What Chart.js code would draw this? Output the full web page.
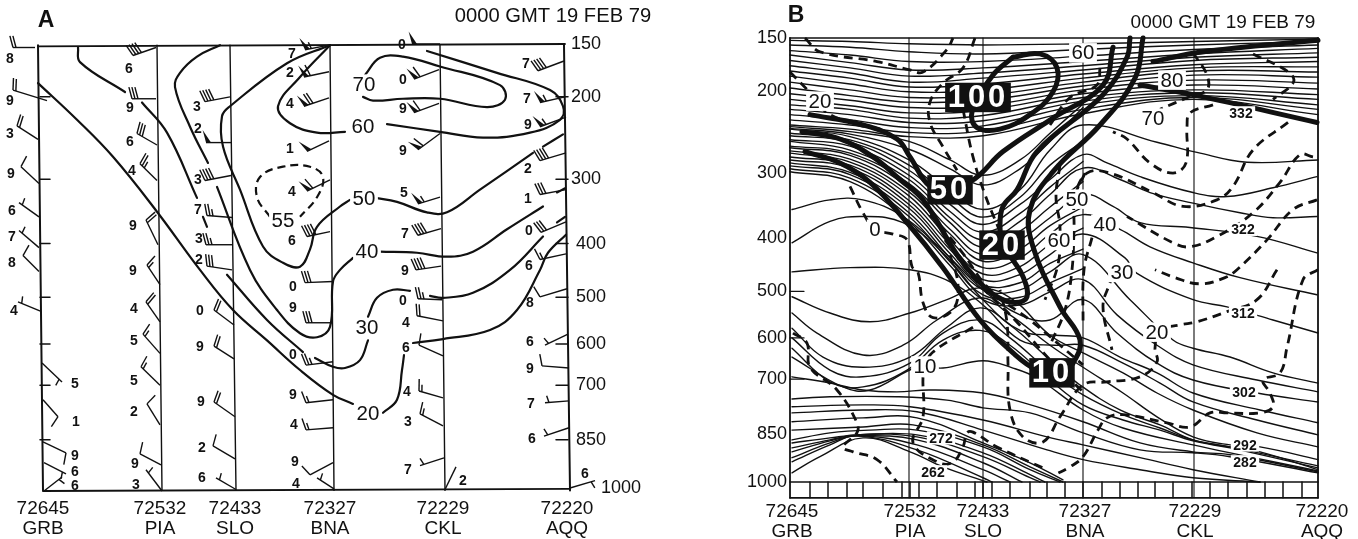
<!DOCTYPE html>
<html>
<head>
<meta charset="utf-8">
<style>
  body { margin: 0; background: #fff; }
  canvas { position: absolute; top: 0; }
</style>
<script src="https://cdn.jsdelivr.net/npm/chart.js@4/dist/chart.umd.js"></script>
</head>
<body>
<canvas id="panelA" width="680" height="539" style="left:0"></canvas>
<canvas id="panelB" width="678" height="539" style="left:680px"></canvas>
<script>
// ---- axes ----
const pressureTicks = [150, 200, 300, 400, 500, 600, 700, 850, 1000];
const tickLabelsA = ['150', '200', '300', ' 400', ' 500', ' 600', ' 700', ' 850', '      1000'];
const tickLabelsB = ['150', '200', '300', '400', '500', '600', '700', '850', '1000'];
const stationNames = [['72645', 'GRB'], ['72532', 'PIA'], ['72433', 'SLO'], ['72327', 'BNA'], ['72229', 'CKL'], ['72220', 'AQQ']];
const stationLabelXA = [5, 122, 197, 292, 405, 529];
const stationLabelXB = [2, 120, 193, 295, 405, 532];
const stationXB = [0, 119, 193, 293, 404, 528];
// top x, bottom x of the (slightly skewed) station lines in panel A
const stationTopA = [0, 119, 192, 292, 402, 526];
const stationBottomA = [5, 124, 198, 296, 407, 532];
const sideTicksA = [200, 300, 400, 500, 600, 700, 850];
const sideTicksB = [500, 600, 700];
const stripX = [20, 38, 57, 73, 93, 112, 120, 129, 147, 167, 185, 193, 202, 220, 240, 257, 275, 293, 312, 330, 348, 365, 383, 402, 420, 438, 457, 475, 493, 512];

// ---- panel A: isotachs, flat x,p lists ----
const isotachsA = [
  [0,186, 39,225, 75,270, 119,348, 162,447, 195,526, 229,592, 262,662, 295,725, 315,749],
  [345,773, 359,738, 364,662, 366,626],
  [375,598, 405,589, 452,569, 479,526, 502,447, 510,416, 528,385],
  [40,153, 42,166, 87,195],
  [104,206, 129,240, 159,327],
  [165,356, 169,372],
  [189,456, 229,547, 265,619],
  [277,633, 295,654, 307,657, 322,638, 330,592],
  [330,540, 339,501, 355,485, 372,487],
  [392,497, 405,501, 435,491, 472,447, 505,388],
  [519,365, 527,356],
  [182,151, 159,161, 142,176, 137,190, 152,233, 170,278],
  [179,311, 212,447, 239,526, 262,576, 279,585, 292,562, 295,469, 302,447, 315,425],
  [292,151, 249,167, 192,210, 184,221, 185,257, 202,315, 225,405, 245,434, 262,441, 272,410, 279,372, 302,340, 312,330],
  [337,327, 359,333, 389,349, 409,349, 442,315, 495,265],
  [505,257, 525,242],
  [342,414, 379,416, 409,423, 435,414, 469,376, 505,340],
  [519,319, 527,313],
  [292,151, 262,180, 240,210, 252,229, 279,240, 307,239],
  [349,230, 402,239, 445,246, 492,240, 522,225, 525,210, 512,193, 459,176, 389,156],
  [325,200, 335,204, 365,202, 402,202, 449,211, 467,203, 462,188, 402,170, 365,161, 342,162, 327,178]
];
const dashedA = [[232,356, 219,326, 222,297, 245,283, 272,283, 285,297, 279,326, 262,356]];
const textA = [
  [326,187,'70'], [325,233,'60'], [326,327,'50'], [329,414,'40'], [329,564,'30'], [330,776,'20'], [245,361,'55']
];
// wind barbs: base x, base p, tip x, tip p, speed (kt), number, number x, number p
const barbsGRB = [
  [-3,153, -25,153, 20, '8', -28,162], [9,204, -25,193, 20, '9', -28,203], [0,248, -21,232, 20, '3', -28,241],
  [1,306, -17,283, 10, '9', -27,292], [1,356, -19,334, 5, '6', -26,345], [1,407, -19,378, 5, '7', -26,388],
  [1,450, -15,421, 10, '8', -26,432], [3,529, -20,509, 5, '4', -24,526], [4,645, 24,692, 5, '5', 37,695],
  [5,738, 20,784, 10, '1', 38,795], [5,856, 28,889, 10, '9', 37,895], [6,919, 28,954, 5, '6', 37,944],
  [6,1010, 24,964, 5, '6', 37,990]
];
const barbsPIA = [
  [118,153, 95,160, 40, '6', 91,172], [118,202, 94,202, 30, '9', 92,211], [119,255, 99,241, 30, '6', 92,250],
  [119,302, 102,279, 25, '4', 94,288], [120,402, 108,361, 20, '9', 95,370], [122,475, 109,438, 15, '9', 95,448],
  [122,551, 108,509, 20, '4', 96,523], [122,622, 105,578, 15, '5', 96,592], [122,700, 103,654, 15, '5', 96,687],
  [122,807, 109,749, 10, '2', 96,768], [123,926, 102,892, 10, '9', 97,919], [124,1010, 108,941, 5, '3', 98,986]
];
const barbsSLO = [
  [192,200, 167,205, 40, '3', 159,210], [193,252, 168,252, 50, '2', 160,235], [193,295, 167,302, 40, '3', 160,300],
  [194,357, 169,354, 25, '7', 160,344], [194,402, 168,402, 25, '3', 161,391], [194,447, 169,440, 30, '2', 161,427],
  [196,558, 176,526, 20, '0', 162,526], [196,635, 176,605, 20, '9', 162,605], [197,784, 176,744, 20, '9', 163,741],
  [197,907, 175,868, 10, '2', 164,871], [198,1005, 178,967, 5, '6', 164,964]
];
const barbsBNA = [
  [291,151, 267,155, 55, '7', 254,158], [291,175, 266,180, 60, '2', 252,175], [291,201, 266,210, 70, '4', 252,207],
  [291,250, 269,263, 50, '1', 252,259], [292,301, 269,317, 60, '4', 254,317], [292,380, 269,388, 40, '6', 254,394],
  [295,469, 267,471, 30, '0', 255,477], [295,553, 268,553, 30, '9', 255,521], [295,642, 268,650, 25, '0', 255,624],
  [295,738, 268,746, 15, '9', 255,723], [295,815, 268,821, 15, '4', 256,804], [295,919, 272,957, 10, '9', 257,915],
  [296,1003, 279,967, 5, '4', 258,983]
];
const barbsCKL = [
  [402,150, 374,150, 50, '0', 364,150], [401,173, 376,182, 60, '0', 365,182], [401,207, 376,217, 60, '9', 365,212],
  [402,241, 380,261, 60, '9', 365,262], [402,326, 380,336, 55, '5', 366,319], [403,375, 380,386, 40, '7', 367,383],
  [403,440, 378,447, 40, '9', 367,447], [404,505, 380,503, 25, '0', 365,505], [405,549, 379,538, 20, '4', 368,551],
  [405,628, 381,603, 10, '6', 368,607], [405,733, 381,715, 15, '4', 369,715], [405,810, 382,776, 15, '3', 370,795],
  [406,904, 382,928, 5, '7', 370,938], [407,1005, 418,932, 0, '2', 425,973]
];
const barbsAQQ = [
  [526,165, 500,174, 40, '7', 488,167], [527,200, 502,206, 55, '7', 489,201], [528,222, 502,233, 55, '9', 490,230],
  [528,265, 502,275, 40, '2', 490,285], [528,315, 502,322, 30, '1', 490,327], [528,364, 503,381, 30, '0', 491,378],
  [528,418, 502,428, 15, '6', 491,438], [529,483, 502,499, 10, '8', 492,509], [530,578, 507,603, 5, '6', 492,594],
  [531,657, 504,652, 10, '9', 492,657], [531,741, 507,746, 5, '7', 493,746], [531,815, 506,839, 5, '6', 494,845],
  [532,1000, 557,976, 5, '6', 547,951]
];

// ---- panel B: isentropes ----
const upperX = [0, 60, 119, 193, 293, 404, 528];
const upperIsentropes = [
  [152,153,155,156,155,153,151], [156,158,162,164,160,156,153], [161,165,171,171,166,160,156],
  [165,172,179,177,171,164,159], [170,177,185,182,175,167,163], [175,182,191,187,179,170,167],
  [180,187,196,193,183,174,171], [185,193,201,199,187,177,176], [191,199,207,205,191,180,181],
  [197,205,212,210,195,184,186], [203,210,218,216,199,189,192], [209,216,224,221,203,194,198],
  [215,220,230,227,207,199,204], [220,226,235,233,211,202,209], [226,232,241,239,215,205,215],
  [232,238,247,245,220,207,220], [238,243,252,251,225,209,226]
];
// the stack that dips through the front, between the upper group and the section below it
const dipX = [0, 60, 119, 160, 193, 230, 260, 293];
const dipIsentropes = [
  [240,246,258,282,303,282,248,214], [242,249,268,294,317,294,258,218],
  [248,256,289,335,366,335,289,258], [256,264,303,357,391,360,320,284],
  [264,273,315,375,417,389,350,312], [270,281,327,394,442,420,380,350],
  [278,289,340,412,466,452,412,384], [286,299,352,428,487,483,446,420],
  [294,307,365,443,507,512,483,456]
];
const isentropes = [
  [0,243, 60,252, 119,282, 160,324, 193,354, 230,324, 260,269, 293,238, 367,259, 407,272, 457,285, 528,282],
  [0,251, 60,259, 119,296, 160,346, 193,378, 230,346, 260,309, 293,275, 317,286, 350,305, 403,328, 437,334, 483,321, 527,305],
  [0,258, 60,269, 119,309, 160,367, 193,404, 230,373, 260,331, 293,293, 330,309, 360,328, 403,344, 450,359, 483,367, 527,365],
  [0,266, 60,276, 119,321, 160,386, 193,430, 230,404, 260,367, 293,331, 323,349, 350,375, 400,383, 467,398, 527,427],
  [0,273, 60,285, 119,333, 160,404, 193,454, 230,436, 260,394, 293,362, 330,386, 360,416, 403,445, 450,473, 527,507],
  [0,282, 60,293, 119,346, 160,421, 193,477, 230,467, 260,430, 293,394, 335,436, 347,465, 403,517, 437,532, 483,560, 528,589],
  [0,290, 60,302, 119,359, 160,436, 193,497, 230,497, 260,462, 293,430, 340,517, 383,605, 403,624, 440,645, 483,684, 528,710],
  [0,298, 60,312, 119,373, 160,450, 193,517, 230,528, 260,501, 293,477, 327,549, 367,617, 403,664, 467,702, 528,733],
  [2,354, 40,339, 73,339, 113,365, 150,418, 193,497, 230,549, 260,560, 293,517, 327,589, 367,660, 403,702, 467,736, 528,760],
  [2,409, 40,373, 73,365, 113,375, 153,427, 193,517, 230,583, 265,594, 293,600, 330,645, 367,684, 403,736, 470,782, 528,818],
  [2,462, 60,454, 120,458, 160,481, 193,528, 230,605, 265,617, 293,617, 333,660, 370,710, 403,760, 467,810, 528,853],
  [2,511, 40,545, 80,564, 120,545, 157,517, 190,493, 223,517, 260,594, 293,635, 333,684, 367,736, 403,782, 467,847, 528,889],
  [2,545, 27,589, 73,640, 113,617, 147,560, 190,513, 220,549, 260,617, 293,670, 333,736, 367,801, 403,859, 440,883, 470,889, 528,928],
  [2,578, 33,645, 73,670, 120,645, 157,576, 190,534, 220,571, 260,652, 290,715, 330,782, 370,824, 403,868, 440,889, 470,904, 528,960],
  [2,600, 40,677, 73,694, 120,660, 153,589, 190,560, 220,600, 260,682, 293,741, 333,795, 370,833, 403,868, 440,889, 528,948],
  [2,624, 40,707, 73,720, 117,677, 153,605, 190,583, 220,617, 260,702, 293,768, 333,810, 370,839, 403,871, 440,892, 528,954],
  [2,645, 53,720, 80,728, 127,670, 153,672, 193,654, 223,672, 247,697, 293,782, 333,833, 403,883, 528,964],
  [2,694, 40,710, 73,728, 107,733, 140,728, 193,736, 233,762, 293,815, 350,877, 403,904, 440,913, 528,967],
  [2,752, 40,746, 107,746, 157,755, 193,776, 240,790, 293,847, 350,898, 403,907, 440,919, 528,970],
  [2,773, 73,768, 120,773, 193,810, 257,859, 293,883, 350,922, 403,960, 470,1000],
  [2,790, 73,782, 127,787, 193,839, 257,898, 293,928, 350,960, 403,986, 470,1000],
  [2,815, 73,804, 127,804, 193,877, 240,938, 273,993],
  [2,839, 73,830, 123,824, 193,883, 240,951, 273,1000],
  [2,868, 40,847, 80,839, 127,839, 193,889, 240,960, 270,1000],
  [2,877, 40,862, 67,853, 127,853, 193,907, 240,976, 255,1000],
  [2,892, 40,868, 67,853, 127,859, 193,919, 240,986, 250,1000],
  [2,904, 40,871, 67,856, 127,868, 193,938, 232,1000],
  [2,922, 40,877, 67,856, 127,883, 193,960, 220,1000],
  [2,935, 40,883, 67,856, 127,898, 193,986, 202,1000],
  [2,970, 30,919, 73,862, 120,904, 153,951, 197,1000]
];
const heavyB = [
  [15,271, 50,286, 80,313, 117,375, 153,454, 190,560, 223,635, 247,677, 270,689, 283,660, 290,605, 270,532, 243,416, 240,354, 263,298, 310,238, 345,187, 353,150],
  [12,246, 50,255, 83,278, 110,309, 133,339, 167,430, 187,477, 207,511, 225,523, 237,511, 233,471, 223,440, 213,413, 210,381, 213,349, 227,324, 247,271, 313,204, 337,167, 340,150],
  [20,226, 73,238, 107,255, 120,278, 140,319, 160,324, 180,312, 190,302, 213,271, 263,230, 313,194, 323,158],
  [223,167, 250,164, 267,177, 263,201, 240,226, 210,243, 187,241, 182,223, 203,184, 223,167],
  [363,171, 413,162, 528,152],
  [350,194, 403,204, 527,235]
];
const dashedB = [
  [15,150, 30,162, 87,171, 120,179, 133,181, 157,160, 163,150],
  [0,181, 22,204, 40,226, 90,243],
  [185,150, 173,177, 153,192, 140,212, 140,235, 153,265, 167,296],
  [173,220, 183,278, 195,331, 210,390],
  [310,177, 307,194, 280,207, 260,238],
  [403,163, 417,184, 417,199, 400,206, 370,220],
  [463,164, 500,182, 503,192, 483,209],
  [423,215, 400,224, 397,240, 396,286, 383,300, 360,286, 337,255, 323,246],
  [498,235, 463,269, 443,319, 427,339, 393,349, 363,328, 320,300, 297,300, 283,334],
  [523,278, 510,275, 490,313, 463,359, 427,398, 400,416, 383,409, 337,365],
  [527,339, 503,354, 477,404, 447,458, 435,473, 410,485, 385,473, 365,458],
  [528,458, 513,477, 497,622, 490,684, 473,702, 480,736, 483,773, 470,790, 437,790, 420,790, 400,830, 377,818, 333,795, 317,804, 308,839, 293,919, 280,951, 265,976],
  [487,458, 467,517, 437,542, 407,564, 390,571, 370,583, 365,624, 367,657, 350,694, 317,707, 293,715, 270,801, 253,874, 233,859, 220,782, 218,660, 217,566, 210,497],
  [323,467, 320,483, 313,532, 322,628],
  [270,289, 266,334, 270,383, 268,448, 255,517],
  [295,300, 285,334, 284,386, 282,458, 275,538, 260,617],
  [302,400, 294,458, 293,573],
  [60,319, 73,359, 85,386, 103,394, 117,404, 122,452, 128,463, 133,523, 143,555, 163,538, 168,487, 160,430],
  [183,576, 143,633, 135,667, 133,694, 133,801, 123,877, 147,935, 162,938, 173,889, 177,847, 183,845, 207,889, 257,960],
  [3,589, 17,612, 20,670, 47,728, 67,818, 67,847, 53,889, 63,904, 87,928, 107,1000],
  [140,362, 170,421, 200,497, 240,560, 270,617, 293,664],
  [155,404, 185,477, 225,560, 260,652, 293,733]
];
const textB = [
  [30,211,'20','box'], [85,386,'0','box'], [135,667,'10','box'], [293,163,'60','box'], [382,189,'80','box'],
  [363,230,'70','box'], [287,338,'50','box'], [315,378,'40','box'], [269,405,'60','box'], [332,463,'30','box'], [367,587,'20','box'],
  [151,862,'272','small'], [143,967,'262','small'], [451,224,'332','small'], [453,386,'322','small'],
  [453,545,'312','small'], [454,733,'302','small'], [455,883,'292','small'], [455,935,'282','small'],
  [188,207,'100','inv'], [160,324,'50','inv'], [212,413,'20','inv'], [262,684,'10','inv']
];
const headersA = [[8,130,'A','letter'], [515,127,'0000 GMT 19 FEB 79','dateA']];
const headersB = [[6,131,'B','letter'], [433,137,'0000 GMT 19 FEB 79','date']];

// ---- pressure axis spaced as p^0.286, the way the sections are drawn ----
class PoissonScale extends Chart.LinearScale {
  static id = 'poisson';
  static defaults = {};
  getPixelForValue(v) {
    if (v === null || v === undefined) return NaN;
    const a = Math.pow(this.min, 0.286), b = Math.pow(this.max, 0.286);
    return this.getPixelForDecimal((Math.pow(v, 0.286) - a) / (b - a));
  }
  getValueForPixel(px) {
    const a = Math.pow(this.min, 0.286), b = Math.pow(this.max, 0.286);
    return Math.pow(a + this.getDecimalForPixel(px) * (b - a), 1 / 0.286);
  }
}
Chart.register(PoissonScale);
Chart.defaults.font.family = '"Liberation Sans", Arial, sans-serif';
Chart.defaults.color = '#111';

const INK = '#111';
const toPts = (flat) => {
  const out = [];
  for (let i = 0; i < flat.length; i += 2) out.push({ x: flat[i], y: flat[i + 1] });
  return out;
};
const curve = (flat, width, dash, tension) => ({
  data: toPts(flat), showLine: true, borderColor: INK, borderWidth: width,
  borderDash: dash || [], tension: tension === undefined ? 0.4 : tension,
  pointRadius: 0, clip: false, borderCapStyle: dash ? 'butt' : 'round'
});
const stick = (flat, width) => curve(flat, width, null, 0);

// writes text at data coordinates
const textStyles = {
  box: { font: '20.5px "Liberation Sans"', bg: '#fff' },
  small: { font: 'bold 14px "Liberation Sans"', bg: '#fff' },
  number: { font: 'bold 14px "Liberation Sans"' },
  inv: { font: 'bold 31px "Liberation Sans"', bg: '#111', color: '#fff', spacing: '3px' },
  letter: { font: 'bold 23px "Liberation Sans"' },
  date: { font: '19px "Liberation Sans"' },
  dateA: { font: '20.2px "Liberation Sans"' }
};
function putText(chart, x, p, str, kind) {
  const ctx = chart.ctx, st = textStyles[kind];
  const px = chart.scales.x.getPixelForValue(x), py = chart.scales.y.getPixelForValue(p);
  ctx.save();
  ctx.font = st.font;
  ctx.letterSpacing = st.spacing || '0px';
  ctx.textAlign = 'center';
  ctx.textBaseline = 'middle';
  if (st.bg) {
    const w = ctx.measureText(str).width + 5, h = parseFloat(st.font.replace('bold ', '')) * 0.95;
    ctx.fillStyle = st.bg;
    ctx.fillRect(px - w / 2, py - h / 2, w, h);
  }
  ctx.fillStyle = st.color || INK;
  ctx.fillText(str, px, py + 1);
  ctx.restore();
}

function drawBarb(chart, row) {
  const [bx, bp, tx, tp, speed, num, nx, np] = row;
  const sx = chart.scales.x, sy = chart.scales.y, ctx = chart.ctx;
  const x0 = sx.getPixelForValue(bx), y0 = sy.getPixelForValue(bp);
  const x1 = sx.getPixelForValue(tx), y1 = sy.getPixelForValue(tp);
  const len = Math.hypot(x1 - x0, y1 - y0) || 1;
  const ux = (x1 - x0) / len, uy = (y1 - y0) / len;
  // feathers lean out from the staff, turned clockwise on screen
  const c = Math.cos(75 * Math.PI / 180), s = Math.sin(75 * Math.PI / 180);
  const fx = ux * c - uy * s, fy = ux * s + uy * c;
  ctx.save();
  ctx.strokeStyle = INK;
  ctx.fillStyle = INK;
  ctx.lineWidth = 1.4;
  ctx.beginPath();
  ctx.moveTo(x0, y0);
  ctx.lineTo(x1, y1);
  ctx.stroke();
  let left = speed, d = 0;
  while (left >= 50) {
    ctx.beginPath();
    ctx.moveTo(x1 - ux * d, y1 - uy * d);
    ctx.lineTo(x1 - ux * (d + 5), y1 - uy * (d + 5));
    ctx.lineTo(x1 - ux * d + fx * 13, y1 - uy * d + fy * 13);
    ctx.closePath();
    ctx.fill();
    d += 6.5;
    left -= 50;
  }
  while (left >= 10) {
    ctx.beginPath();
    ctx.moveTo(x1 - ux * d, y1 - uy * d);
    ctx.lineTo(x1 - ux * d + fx * 12, y1 - uy * d + fy * 12);
    ctx.stroke();
    d += 3;
    left -= 10;
  }
  if (left >= 5) {
    if (d === 0) d = 4;
    ctx.beginPath();
    ctx.moveTo(x1 - ux * d, y1 - uy * d);
    ctx.lineTo(x1 - ux * d + fx * 7, y1 - uy * d + fy * 7);
    ctx.stroke();
  }
  ctx.restore();
  putText(chart, nx, np, num, 'number');
}

const annotate = {
  id: 'annotate',
  afterDatasetsDraw(chart, args, opts) {
    (opts.barbs || []).forEach((r) => drawBarb(chart, r));
    (opts.texts || []).forEach((t) => putText(chart, t[0], t[1], t[2], t[3]));
  }
};

function sectionOptions(cfg) {
  return {
    responsive: false, animation: false, events: [],
    layout: { padding: cfg.padding },
    plugins: { legend: { display: false }, tooltip: { enabled: false }, annotate: { barbs: cfg.barbs, texts: cfg.texts } },
    scales: {
      x: {
        type: 'linear', min: 0, max: cfg.xMax,
        grid: { display: false, drawTicks: false }, border: { display: false },
        afterBuildTicks: (sc) => { sc.ticks = cfg.labelX.map((v) => ({ value: v })); },
        // the end labels may hang outside the plot, they must not shrink it
        afterFit: (sc) => { sc.height = cfg.xBox; sc.paddingLeft = 0; sc.paddingRight = 0; },
        ticks: {
          autoSkip: false, maxRotation: 0, padding: cfg.xPad,
          font: { size: 19, lineHeight: 1.05 },
          callback: (v, i) => stationNames[i]
        }
      },
      y: {
        type: 'poisson', min: 150, max: 1000, reverse: true, position: cfg.yPos,
        grid: { display: false, drawTicks: false }, border: { display: false },
        afterBuildTicks: (sc) => { sc.ticks = pressureTicks.map((v) => ({ value: v })); },
        afterFit: (sc) => { sc.width = cfg.yBox; },
        ticks: {
          autoSkip: false, padding: cfg.yPad, font: { size: 18 },
          callback: (v, i) => cfg.yLabels[i]
        }
      }
    }
  };
}

// ---- panel A ----
const datasetsA = [];
stationTopA.forEach((t, i) => {
  datasetsA.push(stick([t, 151, stationBottomA[i], 1008], i === 0 || i === 5 ? 2 : 1.4));
});
datasetsA.push(stick([0, 152, 527, 150], 1.8));
datasetsA.push(stick([5, 1010, 532, 1003], 1.8));
sideTicksA.forEach((p) => {
  datasetsA.push(stick([2, p, 12, p], 1.5));
  datasetsA.push(stick([518, p, 530, p], 1.5));
});
isotachsA.forEach((c) => datasetsA.push(curve(c, 2.2)));
dashedA.forEach((c) => datasetsA.push(curve(c, 2.2, [8, 5])));

new Chart(document.getElementById('panelA'), {
  type: 'scatter',
  data: { datasets: datasetsA },
  options: sectionOptions({
    padding: { left: 38, right: 0, top: 44, bottom: 0 },
    xBox: 51, yBox: 110,
    xMax: 532, labelX: stationLabelXA, xPad: 11, yPos: 'right', yPad: 1, yLabels: tickLabelsA,
    barbs: [...barbsGRB, ...barbsPIA, ...barbsSLO, ...barbsBNA, ...barbsCKL, ...barbsAQQ],
    texts: [...textA.map((t) => [t[0], t[1], t[2], 'box']), ...headersA]
  }),
  plugins: [annotate]
});

// ---- panel B ----
const datasetsB = [];
upperIsentropes.forEach((row) => {
  const flat = [];
  row.forEach((p, i) => flat.push(upperX[i], p));
  datasetsB.push(curve(flat, 1.4));
});
dipIsentropes.forEach((row) => {
  const flat = [];
  row.forEach((p, i) => flat.push(dipX[i], p));
  datasetsB.push(curve(flat, 1.4));
});
isentropes.forEach((c) => datasetsB.push(curve(c, 1.4)));
stationXB.forEach((x, i) => {
  datasetsB.push(stick([x, 150, x, 1053], i === 0 || i === 5 ? 1.8 : 1.1));
});
datasetsB.push(stick([0, 150, 528, 150], 1.6));
datasetsB.push(stick([0, 1000, 528, 1000], 1.6));
datasetsB.push(stick([0, 1053, 528, 1053], 1.8));
stripX.forEach((x) => datasetsB.push(stick([x, 1000, x, 1053], 1.5)));
sideTicksB.forEach((p) => datasetsB.push(stick([0, p, 14, p], 1.3)));
dashedB.forEach((c) => datasetsB.push(curve(c, 2.8, [9, 6])));
heavyB.forEach((c) => datasetsB.push(curve(c, 5)));

new Chart(document.getElementById('panelB'), {
  type: 'scatter',
  data: { datasets: datasetsB },
  options: sectionOptions({
    padding: { left: 0, right: 40, top: 38, bottom: 0 },
    xBox: 57, yBox: 110,
    xMax: 528, labelX: stationLabelXB, xPad: 20, yPos: 'left', yPad: 3, yLabels: tickLabelsB,
    barbs: [], texts: [...textB, ...headersB]
  }),
  plugins: [annotate]
});
</script>
</body>
</html>
